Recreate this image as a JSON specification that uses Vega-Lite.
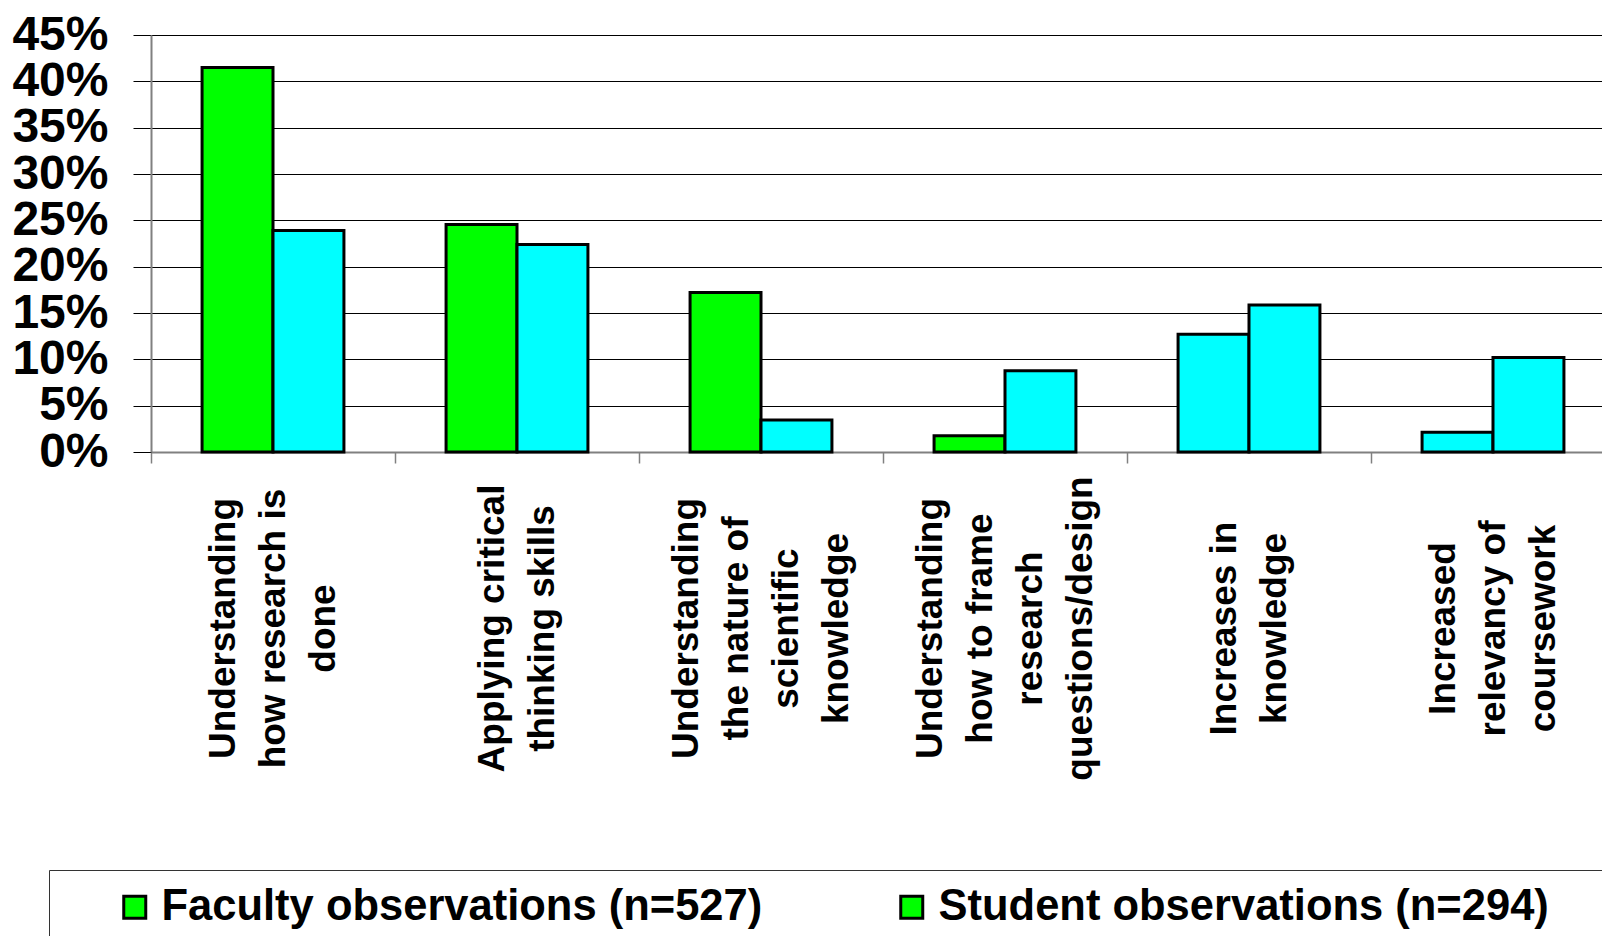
{
  "$schema": "https://vega.github.io/schema/vega-lite/v6.json",
  "width": 1451,
  "height": 417,
  "autosize": {"type": "none"},
  "padding": {"left": 151, "top": 35, "right": 0, "bottom": 484},
  "background": "white",
  "config": {"view": {"stroke": null}, "font": "Liberation Sans"},
  "data": {
    "values": [
      {"category": "Understanding how research is done", "series": "Faculty observations (n=527)", "value": 0.415},
      {"category": "Understanding how research is done", "series": "Student observations (n=294)", "value": 0.239},
      {"category": "Applying critical thinking skills", "series": "Faculty observations (n=527)", "value": 0.2455},
      {"category": "Applying critical thinking skills", "series": "Student observations (n=294)", "value": 0.224},
      {"category": "Understanding the nature of scientific knowledge", "series": "Faculty observations (n=527)", "value": 0.172},
      {"category": "Understanding the nature of scientific knowledge", "series": "Student observations (n=294)", "value": 0.0345},
      {"category": "Understanding how to frame research questions/design", "series": "Faculty observations (n=527)", "value": 0.0176},
      {"category": "Understanding how to frame research questions/design", "series": "Student observations (n=294)", "value": 0.0877},
      {"category": "Increases in knowledge", "series": "Faculty observations (n=527)", "value": 0.127},
      {"category": "Increases in knowledge", "series": "Student observations (n=294)", "value": 0.1585},
      {"category": "Increased relevancy of coursework", "series": "Faculty observations (n=527)", "value": 0.0212},
      {"category": "Increased relevancy of coursework", "series": "Student observations (n=294)", "value": 0.102}
    ]
  },
  "mark": {"type": "bar", "strokeWidth": 3},
  "encoding": {
    "x": {
      "field": "category",
      "type": "nominal",
      "sort": null,
      "scale": {"range": [0, 1464], "paddingInner": 0, "paddingOuter": 0},
      "axis": {
        "title": null,
        "grid": false,
        "tickBand": "extent",
        "tickSize": 11,
        "tickColor": "#808080",
        "tickWidth": 1.5,
        "domainColor": "#808080",
        "domainWidth": 2,
        "labelAngle": -90,
        "labelAlign": "center",
        "labelBaseline": "middle",
        "labelPadding": 165,
        "labelOffset": {
          "condition": [
            {"test": "datum.value == 'Understanding how research is done' || datum.value == 'Increased relevancy of coursework'", "value": -50},
            {"test": "datum.value == 'Applying critical thinking skills' || datum.value == 'Increases in knowledge'", "value": -25}
          ],
          "value": -75
        },
        "labelFont": "Liberation Sans",
        "labelFontSize": 37,
        "labelFontWeight": "bold",
        "labelColor": "black",
        "labelLineHeight": 50,
        "labelOverlap": false,
        "labelLimit": 2000,
        "labelExpr": "datum.label == 'Understanding how research is done' ? ['Understanding', 'how research is', 'done'] : datum.label == 'Applying critical thinking skills' ? ['Applying critical', 'thinking skills'] : datum.label == 'Understanding the nature of scientific knowledge' ? ['Understanding', 'the nature of', 'scientific', 'knowledge'] : datum.label == 'Understanding how to frame research questions/design' ? ['Understanding', 'how to frame', 'research', 'questions/design'] : datum.label == 'Increases in knowledge' ? ['Increases in', 'knowledge'] : datum.label == 'Increased relevancy of coursework' ? ['Increased', 'relevancy of', 'coursework'] : ''"
      }
    },
    "xOffset": {
      "field": "series",
      "type": "nominal",
      "sort": null,
      "scale": {"paddingInner": 0, "paddingOuter": 0.72}
    },
    "y": {
      "field": "value",
      "type": "quantitative",
      "scale": {"domain": [0, 0.45], "nice": false},
      "axis": {
        "title": null,
        "values": [0, 0.05, 0.1, 0.15, 0.2, 0.25, 0.3, 0.35, 0.4, 0.45],
        "format": ".0%",
        "labelOverlap": false,
        "labelFont": "Liberation Sans",
        "labelFontSize": 48,
        "labelFontWeight": "bold",
        "labelColor": "black",
        "labelPadding": 25,
        "tickSize": 18,
        "tickColor": "#000",
        "gridColor": "#000",
        "gridWidth": 1,
        "domainColor": "#808080",
        "domainWidth": 2
      }
    },
    "fill": {
      "condition": {
        "test": "datum.series == 'Student observations (n=294)' || datum.category == 'Increases in knowledge' || datum.category == 'Increased relevancy of coursework'",
        "value": "#00ffff"
      },
      "value": "#00ff00"
    },
    "stroke": {
      "field": "series",
      "type": "nominal",
      "sort": null,
      "scale": {"range": ["#000000", "#000000"]},
      "legend": {
        "title": "\u00a0",
        "titleOrient": "right",
        "titlePadding": 80,
        "titleFontSize": 10,
        "orient": "none",
        "legendX": -102,
        "legendY": 835,
        "direction": "horizontal",
        "padding": 15,
        "strokeColor": "#333",
        "fillColor": "white",
        "symbolType": "square",
        "symbolSize": 484,
        "symbolStrokeWidth": 3,
        "symbolFillColor": "#00ff00",
        "symbolOpacity": 1,
        "symbolOffset": 49,
        "labelOffset": 5,
        "labelFont": "Liberation Sans",
        "labelFontSize": 43.5,
        "labelFontWeight": "bold",
        "labelColor": "black",
        "labelLimit": 2000,
        "columnPadding": 78
      }
    }
  }
}
